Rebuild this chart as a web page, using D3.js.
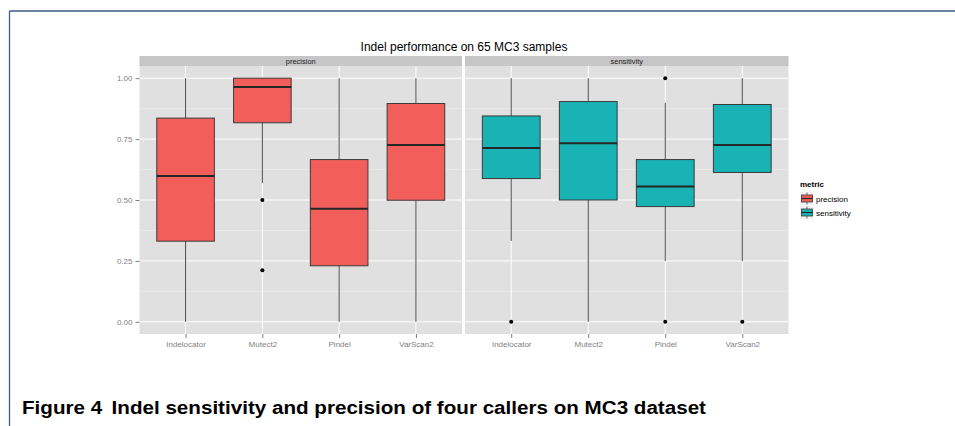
<!DOCTYPE html>
<meta charset="utf-8">
<style>
body { margin: 0; background: #fff; }
text { font-family: "Liberation Sans", Arial, sans-serif; }
.axis text { fill: #7f7f7f; font-size: 8px; }
.strip text { fill: #1a1a1a; font-size: 7.5px; }
</style>
<body>
<script src="https://cdnjs.cloudflare.com/ajax/libs/d3/7.8.5/d3.min.js"></script>
<script>

// five-number summaries per caller: [lower whisker, Q1, median, Q3, upper whisker]
var callers = ["Indelocator", "Mutect2", "Pindel", "VarScan2"];
var metrics = ["precision", "sensitivity"];
var precisionStats = [
  [0.00, 0.331, 0.599, 0.836, 1.00],
  [0.570, 0.817, 0.964, 1.00, 1.00],
  [0.00, 0.230, 0.464, 0.666, 1.00],
  [0.00, 0.499, 0.726, 0.896, 1.00]
];
var sensitivityStats = [
  [0.332, 0.588, 0.713, 0.845, 1.00],
  [0.00, 0.500, 0.733, 0.904, 1.00],
  [0.249, 0.473, 0.555, 0.666, 0.899],
  [0.249, 0.613, 0.726, 0.892, 1.00]
];
var precisionOutliers = [[], [0.50, 0.212], [], []];
var sensitivityOutliers = [[0], [], [1.0, 0], [0]];
var yTicks = [0, 0.25, 0.5, 0.75, 1];
var yMinor = [0.125, 0.375, 0.625, 0.875];
var colors = {precision: "#f25f5b", sensitivity: "#19b2b5"};

var W = 955, H = 426;
var svg = d3.select("body").append("svg").attr("width", W).attr("height", H);

// page frame
svg.append("line").attr("x1", 9.5).attr("x2", W).attr("y1", 11).attr("y2", 11)
  .attr("stroke", "#3d5b8a").attr("stroke-width", 1.3);
svg.append("line").attr("x1", 9.5).attr("x2", 9.5).attr("y1", 11).attr("y2", H)
  .attr("stroke", "#3d5b8a").attr("stroke-width", 1.3);

var panelTop = 66, panelBottom = 334, stripTop = 56;
var panels = [
  {metric: "precision", x0: 139.5, x1: 462, stats: precisionStats, out: precisionOutliers},
  {metric: "sensitivity", x0: 465, x1: 788.5, stats: sensitivityStats, out: sensitivityOutliers}
];

var y = d3.scaleLinear().domain([-0.05, 1.05]).range([panelBottom, panelTop]);

svg.append("text").attr("x", (139.5 + 788.5) / 2).attr("y", 51)
  .attr("text-anchor", "middle").style("font-size", "12px").attr("fill", "#000")
  .text("Indel performance on 65 MC3 samples");

panels.forEach(function(p) {
  var x = d3.scalePoint().domain(callers).range([p.x0, p.x1]).padding(0.6);
  var bw = x.step() * 0.75;
  var g = svg.append("g");

  // strip
  var strip = g.append("g").attr("class", "strip");
  strip.append("rect").attr("x", p.x0).attr("y", stripTop).attr("width", p.x1 - p.x0)
    .attr("height", panelTop - stripTop).attr("fill", "#c6c6c6");
  strip.append("text").attr("x", (p.x0 + p.x1) / 2).attr("y", panelTop - 2.5)
    .attr("text-anchor", "middle").text(p.metric);

  // panel background + grid
  g.append("rect").attr("x", p.x0).attr("y", panelTop).attr("width", p.x1 - p.x0)
    .attr("height", panelBottom - panelTop).attr("fill", "#e0e0e0");
  g.selectAll(".minor").data(yMinor).enter().append("line")
    .attr("x1", p.x0).attr("x2", p.x1).attr("y1", d => y(d)).attr("y2", d => y(d))
    .attr("stroke", "#f0f0f0").attr("stroke-width", 0.5);
  g.selectAll(".major").data(yTicks).enter().append("line")
    .attr("x1", p.x0).attr("x2", p.x1).attr("y1", d => y(d)).attr("y2", d => y(d))
    .attr("stroke", "#fff").attr("stroke-width", 1);
  g.selectAll(".vgrid").data(callers).enter().append("line")
    .attr("x1", d => x(d)).attr("x2", d => x(d)).attr("y1", panelTop).attr("y2", panelBottom)
    .attr("stroke", "#fff").attr("stroke-width", 1);

  // boxes
  var box = g.selectAll(".box").data(callers).enter().append("g");
  box.append("line")
    .attr("x1", d => x(d)).attr("x2", d => x(d))
    .attr("y1", (d, i) => y(p.stats[i][0])).attr("y2", (d, i) => y(p.stats[i][4]))
    .attr("stroke", "#4a4a4a").attr("stroke-width", 1);
  box.append("rect")
    .attr("x", d => x(d) - bw / 2).attr("width", bw)
    .attr("y", (d, i) => y(p.stats[i][3]))
    .attr("height", (d, i) => y(p.stats[i][1]) - y(p.stats[i][3]))
    .attr("fill", colors[p.metric]).attr("stroke", "#3a3a3a").attr("stroke-width", 1);
  box.append("line")
    .attr("x1", d => x(d) - bw / 2).attr("x2", d => x(d) + bw / 2)
    .attr("y1", (d, i) => y(p.stats[i][2])).attr("y2", (d, i) => y(p.stats[i][2]))
    .attr("stroke", "#262626").attr("stroke-width", 2);
  box.each(function(d, i) {
    d3.select(this).selectAll("circle").data(p.out[i]).enter().append("circle")
      .attr("cx", x(d)).attr("cy", v => y(v)).attr("r", 2).attr("fill", "#000");
  });

  // x axis
  var xa = g.append("g").attr("class", "axis")
    .attr("transform", "translate(0," + panelBottom + ")")
    .call(d3.axisBottom(x).tickSize(4).tickPadding(3));
  xa.select(".domain").remove();
  xa.selectAll("line").attr("stroke", "#7f7f7f");
  xa.selectAll("text").style("font-family", "Liberation Sans, Arial, sans-serif").style("font-size", "8px").attr("fill", "#7f7f7f");
});

// y axis (left panel only)
var ya = svg.append("g").attr("class", "axis").attr("transform", "translate(139.5,0)")
  .call(d3.axisLeft(y).tickValues(yTicks).tickFormat(d3.format(".2f")).tickSize(4).tickPadding(3));
ya.select(".domain").remove();
ya.selectAll("line").attr("stroke", "#7f7f7f");
ya.selectAll("text").style("font-family", "Liberation Sans, Arial, sans-serif").style("font-size", "8px").attr("fill", "#7f7f7f");

// legend
var lg = svg.append("g").attr("transform", "translate(800,180)");
lg.append("text").attr("x", 0).attr("y", 6.5).style("font-size", "8px")
  .style("font-weight", "bold").text("metric");
metrics.forEach(function(m, i) {
  var ky = 11.5 + i * 14;
  var k = lg.append("g").attr("transform", "translate(0," + ky + ")");
  k.append("rect").attr("width", 14).attr("height", 14).attr("fill", "#f2f2f2")
    .attr("stroke", "#fff").attr("stroke-width", 0.5);
  k.append("line").attr("x1", 7).attr("x2", 7).attr("y1", 1).attr("y2", 13)
    .attr("stroke", "#4a4a4a").attr("stroke-width", 0.8);
  k.append("rect").attr("x", 1.5).attr("y", 3.5).attr("width", 11).attr("height", 7)
    .attr("fill", colors[m]).attr("stroke", "#3a3a3a").attr("stroke-width", 0.8);
  k.append("line").attr("x1", 1.5).attr("x2", 12.5).attr("y1", 7).attr("y2", 7)
    .attr("stroke", "#262626").attr("stroke-width", 1.2);
  k.append("text").attr("x", 16).attr("y", 10).style("font-size", "8px").attr("fill", "#000").text(m);
});

// caption
var cap = svg.append("text").attr("x", 22).attr("y", 414)
  .style("font-family", "Liberation Sans, Arial, sans-serif").style("font-weight", "bold")
  .style("font-size", "17.5px").attr("fill", "#000");
cap.append("tspan").text("Figure 4");
cap.append("tspan").attr("dx", 8).text("Indel sensitivity and precision of four callers on MC3 dataset");
cap.attr("textLength", 684).attr("lengthAdjust", "spacingAndGlyphs");
</script>
</body>
</html>
